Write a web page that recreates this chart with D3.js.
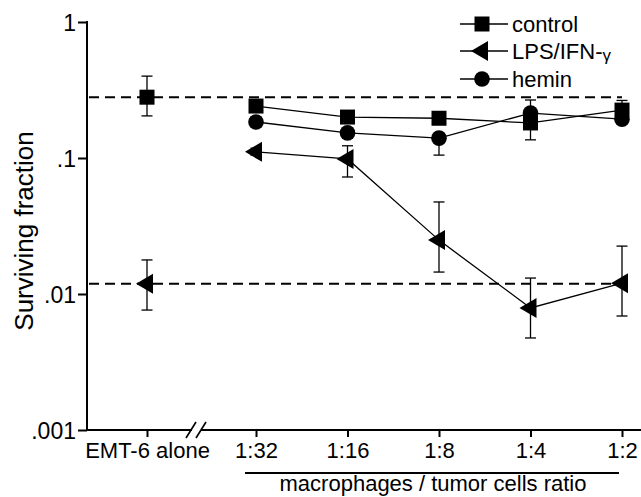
<!DOCTYPE html>
<html><head><meta charset="utf-8">
<script src="https://cdn.jsdelivr.net/npm/d3@7"></script>
<style>body{margin:0;background:#fff}svg{display:block}text{font-family:"Liberation Sans",Arial,sans-serif;fill:#000}</style>
</head><body>
<script>
// ---- data ----
const categories = ["EMT-6 alone", "1:32", "1:16", "1:8", "1:4", "1:2"];
const controlVals = [0.28, 0.241, 0.200, 0.196, 0.181, 0.225];
const controlLo   = [0.204, 0.225, 0.19, 0.185, 0.136, 0.21];
const controlHi   = [0.40, 0.26, 0.21, 0.21, 0.2, 0.265];
const lpsVals = [0.0119, 0.111, 0.0984, 0.0249, 0.00789, 0.0120];
const lpsLo   = [0.00762, 0.105, 0.0725, 0.0145, 0.00475, 0.00689];
const lpsHi   = [0.0178, 0.118, 0.123, 0.0475, 0.0131, 0.0225];
const heminVals = [null, 0.184, 0.153, 0.140, 0.214, 0.193];
const heminLo   = [null, 0.17, 0.14, 0.105, 0.19, 0.18];
const heminHi   = [null, 0.2, 0.165, 0.15, 0.267, 0.21];
const yTicks = [1, 0.1, 0.01, 0.001];
const yTickLabels = ["1", ".1", ".01", ".001"];
const seriesNames = ["control", "LPS/IFN-", "hemin"];
const xTitle = "macrophages / tumor cells ratio";
const yTitle = "Surviving fraction";

// ---- layout ----
const W = 641, H = 497;
const svg = d3.select("body").append("svg").attr("width", W).attr("height", H);
const y = d3.scaleLog().domain([0.001, 1]).range([430, 22]);
const ratios = categories.slice(1);
const xr = d3.scalePoint().domain(ratios).range([256, 622]);
const xPositions = categories.map(c => ratios.includes(c) ? xr(c) : xr(ratios[0]) - 109);
const x = d3.scaleOrdinal().domain(categories).range(xPositions);
const axisX0 = 87, axisY = 430;

// y axis
const ya = svg.append("g").attr("transform", `translate(${axisX0},0)`)
  .call(d3.axisLeft(y).tickValues(yTicks).tickSize(9).tickPadding(2)
    .tickFormat((d, i) => yTickLabels[i]));
ya.select(".domain").remove();
ya.selectAll(".tick line").attr("stroke", "#000").attr("stroke-width", 2);
ya.selectAll(".tick text").style("font-size", "23px").attr("dy", "0.36em");
svg.append("line").attr("x1", axisX0).attr("x2", axisX0).attr("y1", y(1) - 1).attr("y2", axisY + 1)
  .attr("stroke", "#000").attr("stroke-width", 2);

// x axis with break
const xa = svg.append("g").attr("transform", `translate(0,${axisY})`)
  .call(d3.axisBottom(x).tickSize(7).tickPadding(5));
xa.select(".domain").remove();
xa.selectAll(".tick line").attr("stroke", "#000").attr("stroke-width", 2);
xa.selectAll(".tick text").style("font-size", "22px").attr("dy", "0.71em");
const brk = 197;
svg.append("line").attr("x1", axisX0).attr("x2", brk - 5).attr("y1", axisY).attr("y2", axisY).attr("stroke", "#000").attr("stroke-width", 2);
svg.append("line").attr("x1", brk + 4).attr("x2", W).attr("y1", axisY).attr("y2", axisY).attr("stroke", "#000").attr("stroke-width", 2);
[-10, 0].forEach(a => {
  svg.append("line").attr("x1", brk + a - 1).attr("y1", axisY + 8).attr("x2", brk + a + 9).attr("y2", axisY - 8)
    .attr("stroke", "#000").attr("stroke-width", 1.6);
});

// x title with underline
svg.append("line").attr("x1", 245).attr("x2", 619).attr("y1", 473).attr("y2", 473).attr("stroke", "#000").attr("stroke-width", 2);
svg.append("text").attr("x", 433).attr("y", 491).attr("text-anchor", "middle").style("font-size", "22px").text(xTitle);
// y title
svg.append("text").attr("transform", "translate(33,231) rotate(-90)").attr("text-anchor", "middle")
  .style("font-size", "26px").text(yTitle);

// reference dashed lines (EMT-6 alone levels)
[controlVals[0], lpsVals[0]].forEach(v => {
  svg.append("line").attr("x1", axisX0 + 2).attr("x2", 622).attr("y1", y(v)).attr("y2", y(v))
    .attr("stroke", "#000").attr("stroke-width", 2).attr("stroke-dasharray", "10,6");
});

// markers
function marker(g, type, cx, cy) {
  if (type === "square") g.append("rect").attr("x", cx - 7.5).attr("y", cy - 7.5).attr("width", 15).attr("height", 15).attr("fill", "#000");
  else if (type === "circle") g.append("circle").attr("cx", cx).attr("cy", cy).attr("r", 7.8).attr("fill", "#000");
  else g.append("path").attr("d", `M${cx - 11},${cy} L${cx + 6},${cy - 10} L${cx + 6},${cy + 10} Z`).attr("fill", "#000");
}

const series = [
  {name: seriesNames[0], vals: controlVals, lo: controlLo, hi: controlHi, m: "square"},
  {name: seriesNames[1], vals: lpsVals, lo: lpsLo, hi: lpsHi, m: "tri"},
  {name: seriesNames[2], vals: heminVals, lo: heminLo, hi: heminHi, m: "circle"}
];
const line = d3.line().x(d => x(d.c)).y(d => y(d.v));
const plot = svg.append("g");
series.forEach(s => {
  const pts = categories.map((c, i) => ({c, v: s.vals[i], lo: s.lo[i], hi: s.hi[i]})).filter(d => d.v != null);
  const linePts = pts.filter(d => ratios.includes(d.c));
  plot.append("path").attr("d", line(linePts)).attr("fill", "none").attr("stroke", "#000").attr("stroke-width", 1.3);
  pts.forEach(d => {
    const cx = x(d.c);
    plot.append("line").attr("x1", cx).attr("x2", cx).attr("y1", y(d.lo)).attr("y2", y(d.hi)).attr("stroke", "#000").attr("stroke-width", 1.3);
    [d.lo, d.hi].forEach(v => plot.append("line").attr("x1", cx - 5.5).attr("x2", cx + 5.5).attr("y1", y(v)).attr("y2", y(v)).attr("stroke", "#000").attr("stroke-width", 1.3));
  });
});
series.forEach(s => {
  categories.forEach((c, i) => { if (s.vals[i] != null) marker(plot, s.m, x(c), y(s.vals[i])); });
});

// legend
const legY = [24, 51, 79];
series.forEach((s, i) => {
  const g = svg.append("g");
  g.append("line").attr("x1", 460).attr("x2", 508).attr("y1", legY[i]).attr("y2", legY[i]).attr("stroke", "#000").attr("stroke-width", 1.3);
  marker(g, s.m, 482, legY[i]);
  const t = g.append("text").attr("x", 512).attr("y", legY[i] + 8).style("font-size", "22px").text(s.name);
  if (i === 1) t.append("tspan").style("font-size", "17px").attr("dy", 2).text("γ");
});
</script>
</body></html>
